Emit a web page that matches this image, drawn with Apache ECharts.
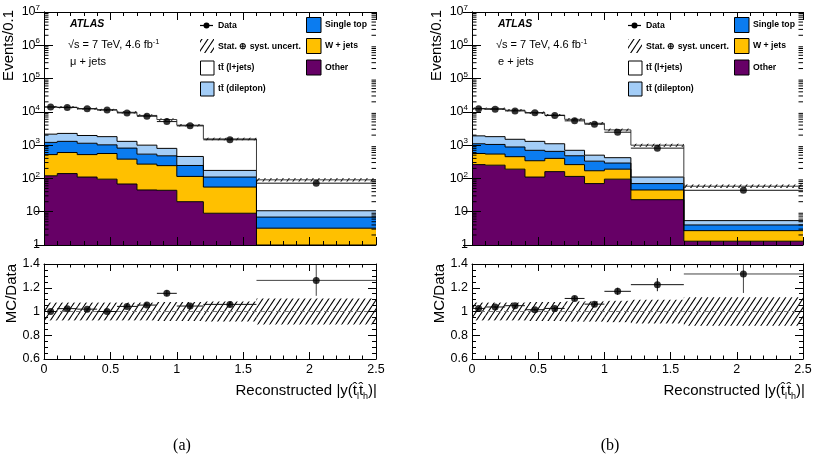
<!DOCTYPE html>
<html><head><meta charset="utf-8">
<script src="https://cdn.jsdelivr.net/npm/echarts@6/dist/echarts.min.js"></script>
<style>html,body{margin:0;padding:0;background:#fff}#c{width:816px;height:466px}</style>
</head><body><div id="c"></div>
<script>
// ---------- data ----------
const binEdges   = [0, 0.1, 0.25, 0.4, 0.55, 0.7, 0.85, 1.0, 1.2, 1.6, 2.5];
const binCenters = [0.05, 0.175, 0.325, 0.475, 0.625, 0.775, 0.925, 1.1, 1.4, 2.05];

// (a) mu + jets
const muData      = [14000, 13500, 12300, 11450, 9300, 7400, 5100, 3800, 1450, 72];
const muOther     = [120, 140, 110, 95, 68, 45, 44, 20, 9, 0.8];
const muWjets     = [400, 460, 410, 465, 312, 224, 198, 95, 46, 2.4];
const muSingleTop = [690, 700, 620, 460, 435, 268, 236, 130, 55, 3.7];
const muDilepton  = [930, 950, 810, 780, 485, 463, 322, 212, 64, 3.8];
const muLjets     = [11860, 11570, 10600, 9650, 8400, 6800, 5080, 3520, 1365, 80];
const muUncert    = [0.075, 0.075, 0.075, 0.075, 0.075, 0.075, 0.08, 0.08, 0.085, 0.11];
const muRatio     = [1.0, 1.024, 1.02, 1.0, 1.043, 1.054, 1.153, 1.046, 1.06, 1.262];
const muRatioErr  = [0.01, 0.01, 0.01, 0.01, 0.012, 0.013, 0.025, 0.02, 0.025, 0.13];

// (b) e + jets
const elData      = [12300, 12000, 10700, 9330, 7760, 5370, 4270, 2450, 813, 44];
const elOther     = [260, 250, 190, 110, 160, 115, 70, 95, 23, 1.3];
const elWjets     = [300, 290, 260, 230, 240, 145, 100, 95, 22, 1.4];
const elSingleTop = [540, 510, 430, 360, 250, 220, 160, 100, 25, 1.3];
const elDilepton  = [800, 750, 620, 600, 450, 220, 170, 130, 40, 1.4];
const elLjets     = [10720, 10660, 9720, 8170, 6860, 5260, 4035, 2450, 887, 53];
const elUncert    = [0.075, 0.075, 0.075, 0.08, 0.08, 0.085, 0.085, 0.09, 0.10, 0.12];
const elRatio     = [1.026, 1.038, 1.049, 1.015, 1.026, 1.11, 1.062, 1.17, 1.226, 1.316];
const elRatioErr  = [0.01, 0.01, 0.01, 0.01, 0.012, 0.02, 0.02, 0.03, 0.055, 0.16];

const legendLabels = ['Data', 'Stat. \u2295 syst. uncert.', 'tt\u0304 (l+jets)', 'tt\u0304 (dilepton)', 'Single top', 'W + jets', 'Other'];

// ---------- style ----------
const FONT = 'Liberation Sans, Arial, Helvetica, sans-serif';
const C_OTHER = '#660066', C_W = '#ffc000', C_ST = '#0b7cf0', C_DIL = '#a3cdf7', C_LJ = '#ffffff';
const X_MIN = 0, X_MAX = 2.5, Y_MIN = 1, Y_MAX = 1e7, R_MIN = 0.6, R_MAX = 1.4;

function makeHatch(w, h, color, lw) {
  const c = document.createElement('canvas'); c.width = w; c.height = h;
  const ctx = c.getContext('2d'); ctx.strokeStyle = color; ctx.lineWidth = lw;
  for (const off of [-w, 0, w]) { ctx.beginPath(); ctx.moveTo(off, h); ctx.lineTo(off + w, 0); ctx.stroke(); }
  return { image: c, repeat: 'repeat' };
}
const hatch = makeHatch(6, 9, '#000', 1.1);

const panels = [
  { layers: [muOther, muWjets, muSingleTop, muDilepton, muLjets], data: muData, ratio: muRatio, ratioErr: muRatioErr, unc: muUncert, channel: '\u03bc + jets', caption: '(a)', dx: 0 },
  { layers: [elOther, elWjets, elSingleTop, elDilepton, elLjets], data: elData, ratio: elRatio, ratioErr: elRatioErr, unc: elUncert, channel: 'e + jets', caption: '(b)', dx: 428 }
];
const layerColors = [C_OTHER, C_W, C_ST, C_DIL, C_LJ];

const grids = [], xAxis = [], yAxis = [], series = [], graphic = [];

function xAx(g, labels, tl) {
  const common = { type: 'value', gridIndex: g, min: X_MIN, max: X_MAX, interval: 0.5, z: 10,
    axisLine: { show: true, onZero: false, lineStyle: { color: '#000', width: 1 } },
    axisTick: { show: true, inside: true, length: tl, lineStyle: { color: '#000' } },
    minorTick: { show: true, splitNumber: 5, length: tl / 2, lineStyle: { color: '#000' } },
    splitLine: { show: false }, minorSplitLine: { show: false } };
  xAxis.push(Object.assign({}, common, { position: 'bottom', axisLabel: { show: labels, color: '#000', fontSize: 12.5, fontFamily: FONT, margin: 4 } }));
  xAxis.push(Object.assign({}, common, { position: 'top', axisLabel: { show: false } }));
}
function yLog(g) {
  const common = { type: 'log', logBase: 10, gridIndex: g, min: Y_MIN, max: Y_MAX, splitNumber: 7, z: 10,
    axisLine: { show: true, lineStyle: { color: '#000', width: 1 } },
    axisTick: { show: true, inside: true, length: 9, lineStyle: { color: '#000' } },
    splitLine: { show: false } };
  yAxis.push(Object.assign({}, common, { position: 'left', axisLabel: { show: true, margin: 4, color: '#000', fontSize: 12.5, fontFamily: FONT,
    formatter: v => { const e = Math.round(Math.log10(v)); if (e === 0) return '1'; if (e === 1) return '10'; return '{b|10}{s|' + e + '}'; },
    rich: { b: { fontSize: 12.5, fontFamily: FONT, color: '#000', lineHeight: 16 }, s: { fontSize: 8, fontFamily: FONT, color: '#000', lineHeight: 8, verticalAlign: 'top' } } } }));
  yAxis.push(Object.assign({}, common, { position: 'right', axisLabel: { show: false } }));
}
function yRatio(g) {
  const common = { type: 'value', gridIndex: g, min: R_MIN, max: R_MAX, interval: 0.2, z: 10,
    axisLine: { show: true, onZero: false, lineStyle: { color: '#000', width: 1 } },
    axisTick: { show: true, inside: true, length: 8, lineStyle: { color: '#000' } },
    minorTick: { show: true, splitNumber: 4, length: 4, lineStyle: { color: '#000' } },
    splitLine: { show: false }, minorSplitLine: { show: false } };
  yAxis.push(Object.assign({}, common, { position: 'left', axisLabel: { show: true, margin: 4, color: '#000', fontSize: 12.5, fontFamily: FONT } }));
  yAxis.push(Object.assign({}, common, { position: 'right', axisLabel: { show: false } }));
}

const rect = (p0, p1, style) => ({ type: 'rect', shape: { x: Math.min(p0[0], p1[0]), y: Math.min(p0[1], p1[1]), width: Math.abs(p1[0] - p0[0]), height: Math.abs(p1[1] - p0[1]) }, style });

panels.forEach((P, p) => {
  const gt = 2 * p, gr = 2 * p + 1;
  const left = 44 + P.dx, width = p === 0 ? 332 : 331;
  grids.push({ left: left, top: 12, width: width, height: 233 });
  grids.push({ left: left, top: 264, width: width, height: 95 });
  xAx(gt, false, 8); yLog(gt);
  xAx(gr, true, 7); yRatio(gr);
  const xi = 2 * gt, yi = 2 * gt, xr = 2 * gr, yr = 2 * gr;

  // cumulative stack tops
  const cum = []; let run = P.layers[0].map(() => 0);
  P.layers.forEach(arr => { run = run.map((v, i) => v + arr[i]); cum.push(run.slice()); });
  const total = cum[cum.length - 1];

  // stacked fills: one polygon per layer (no seams between bins)
  series.push({ type: 'custom', xAxisIndex: xi, yAxisIndex: yi, silent: true, z: 2,
    data: [[1.25, 100]],
    renderItem: (params, api) => {
      const ch = [];
      cum.forEach((top, k) => {
        const bot = k === 0 ? top.map(() => Y_MIN) : cum[k - 1];
        const pts = [];
        top.forEach((v, i) => { const y = Math.max(v, Y_MIN); pts.push(api.coord([binEdges[i], y]), api.coord([binEdges[i + 1], y])); });
        for (let i = bot.length - 1; i >= 0; i--) { const y = Math.max(bot[i], Y_MIN); pts.push(api.coord([binEdges[i + 1], y]), api.coord([binEdges[i], y])); }
        ch.push({ type: 'polygon', shape: { points: pts }, style: { fill: layerColors[k], stroke: null } });
      });
      return { type: 'group', children: ch };
    } });
  // uncertainty band (top)
  series.push({ type: 'custom', xAxisIndex: xi, yAxisIndex: yi, silent: true, z: 3,
    data: binCenters.map((c, i) => [c, total[i]]),
    renderItem: (params, api) => {
      const i = params.dataIndex;
      return rect(api.coord([binEdges[i], total[i] * (1 + P.unc[i])]), api.coord([binEdges[i + 1], total[i] * (1 - P.unc[i])]), { fill: hatch });
    } });
  // step outlines
  series.push({ type: 'custom', xAxisIndex: xi, yAxisIndex: yi, silent: true, z: 4,
    data: [[1.25, 100]],
    renderItem: (params, api) => {
      const ch = [];
      cum.forEach((c, k) => {
        const pts = [];
        c.forEach((v, i) => { const y = Math.max(v, Y_MIN); pts.push(api.coord([binEdges[i], y]), api.coord([binEdges[i + 1], y])); });
        ch.push({ type: 'polyline', shape: { points: pts }, style: { stroke: k === cum.length - 1 ? '#3a3a3a' : '#000', lineWidth: 1, fill: null } });
      });
      return { type: 'group', children: ch };
    } });
  // minor log ticks
  series.push({ type: 'custom', xAxisIndex: xi, yAxisIndex: yi, silent: true, z: 11,
    data: [[1.25, 100]],
    renderItem: (params, api) => {
      const ch = [];
      for (let k = 0; k < 7; k++) for (let m = 2; m <= 9; m++) {
        const v = m * Math.pow(10, k), a = api.coord([X_MIN, v]), b = api.coord([X_MAX, v]);
        ch.push({ type: 'line', shape: { x1: a[0], y1: a[1], x2: a[0] + 4.5, y2: a[1] }, style: { stroke: '#000', lineWidth: 1 } });
        ch.push({ type: 'line', shape: { x1: b[0], y1: b[1], x2: b[0] - 4.5, y2: b[1] }, style: { stroke: '#000', lineWidth: 1 } });
      }
      return { type: 'group', children: ch };
    } });
  // data horizontal bars (top)
  series.push({ type: 'custom', xAxisIndex: xi, yAxisIndex: yi, silent: true, z: 5,
    data: binCenters.map((c, i) => [c, P.data[i]]),
    renderItem: (params, api) => {
      const i = params.dataIndex, a = api.coord([binEdges[i], P.data[i]]), b = api.coord([binEdges[i + 1], P.data[i]]);
      return { type: 'line', shape: { x1: a[0], y1: a[1], x2: b[0], y2: b[1] }, style: { stroke: '#111', lineWidth: 1 } };
    } });
  series.push({ type: 'scatter', xAxisIndex: xi, yAxisIndex: yi, silent: true, z: 6, symbol: 'circle', symbolSize: 7,
    itemStyle: { color: '#000' }, data: binCenters.map((c, i) => [c, P.data[i]]) });

  // ratio band
  series.push({ type: 'custom', xAxisIndex: xr, yAxisIndex: yr, silent: true, z: 2,
    data: binCenters.map((c, i) => [c, 1]),
    renderItem: (params, api) => {
      const i = params.dataIndex;
      return rect(api.coord([binEdges[i], 1 + P.unc[i]]), api.coord([binEdges[i + 1], 1 - P.unc[i]]), { fill: hatch });
    } });
  series.push({ type: 'line', xAxisIndex: xr, yAxisIndex: yr, silent: true, z: 3, symbol: 'none',
    lineStyle: { color: '#777', width: 1, type: [5, 3] }, data: [[X_MIN, 1], [X_MAX, 1]] });
  series.push({ type: 'custom', xAxisIndex: xr, yAxisIndex: yr, silent: true, z: 4,
    data: binCenters.map((c, i) => [c, P.ratio[i]]),
    renderItem: (params, api) => {
      const i = params.dataIndex, r = P.ratio[i], e = P.ratioErr[i];
      const a = api.coord([binEdges[i], r]), b = api.coord([binEdges[i + 1], r]);
      const u = api.coord([binCenters[i], Math.min(r + e, R_MAX)]), d = api.coord([binCenters[i], Math.max(r - e, R_MIN)]);
      const col = i === binCenters.length - 1 ? '#444' : '#111';
      return { type: 'group', children: [
        { type: 'line', shape: { x1: a[0], y1: a[1], x2: b[0], y2: b[1] }, style: { stroke: col, lineWidth: 1 } },
        { type: 'line', shape: { x1: u[0], y1: u[1], x2: d[0], y2: d[1] }, style: { stroke: col, lineWidth: 1 } } ] };
    } });
  series.push({ type: 'scatter', xAxisIndex: xr, yAxisIndex: yr, silent: true, z: 6, symbol: 'circle', symbolSize: 7,
    itemStyle: { color: '#000' }, data: binCenters.map((c, i) => [c, P.ratio[i]]) });

  // ---------- texts & legend ----------
  const dx = P.dx;
  const T = (x, y, text, font, align, extra) => Object.assign({ type: 'text', x: x, y: y, z: 20, silent: true,
    style: { text: text, font: font, fill: '#000', textAlign: align || 'left', textVerticalAlign: 'middle', align: align || 'left', verticalAlign: 'middle' } }, extra || {});
  graphic.push(T(9 + dx, 10, 'Events/0.1', '15px ' + FONT, 'right', { rotation: Math.PI / 2 }));
  graphic.push(T(12 + dx, 264, 'MC/Data', '15px ' + FONT, 'right', { rotation: Math.PI / 2 }));
  graphic.push({ type: 'text', x: 377 + dx, y: 391, z: 20, silent: true, style: {
    text: '{n|Reconstructed |y(t\u0302}{s|l}{n|t\u0302}{s|h}{n|)|}',
    rich: { n: { font: '15px ' + FONT, fill: '#000', lineHeight: 20 }, s: { font: '9px ' + FONT, fill: '#000', lineHeight: 9, verticalAlign: 'bottom' } },
    textAlign: 'right', textVerticalAlign: 'middle', align: 'right', verticalAlign: 'middle' } });
  graphic.push(T(182 + dx, 446, P.caption, '16px Liberation Serif, DejaVu Serif, serif', 'center'));
  graphic.push(T(70 + dx, 24.5, 'ATLAS', 'italic bold 10.5px ' + FONT, 'left'));
  graphic.push({ type: 'text', x: 68 + dx, y: 45, z: 20, silent: true, style: {
    text: '{n|\u221as = 7 TeV, 4.6 fb}{s|-1}',
    rich: { n: { font: '11px ' + FONT, fill: '#000', lineHeight: 14 }, s: { font: '7.5px ' + FONT, fill: '#000', lineHeight: 8, verticalAlign: 'top' } },
    textAlign: 'left', textVerticalAlign: 'middle', align: 'left', verticalAlign: 'middle' } });
  graphic.push(T(70 + dx, 62, P.channel, '11px ' + FONT, 'left'));

  const LF = 'bold 8.7px ' + FONT;
  // column 1
  graphic.push({ type: 'line', z: 20, silent: true, shape: { x1: 200 + dx, y1: 25.5, x2: 213 + dx, y2: 25.5 }, style: { stroke: '#000', lineWidth: 1.2 } });
  graphic.push({ type: 'circle', z: 21, silent: true, shape: { cx: 206.5 + dx, cy: 25.5, r: 3 }, style: { fill: '#000' } });
  graphic.push(T(218 + dx, 25.5, legendLabels[0], LF));
  graphic.push({ type: 'rect', z: 20, silent: true, shape: { x: 200 + dx, y: 39, width: 14, height: 14 }, style: { fill: hatch } });
  graphic.push(T(218 + dx, 46.5, legendLabels[1], LF));
  graphic.push({ type: 'rect', z: 20, silent: true, shape: { x: 200.5 + dx, y: 61, width: 13.5, height: 14 }, style: { fill: C_LJ, stroke: '#000', lineWidth: 1 } });
  graphic.push(T(218 + dx, 68, legendLabels[2], LF));
  graphic.push({ type: 'rect', z: 20, silent: true, shape: { x: 200.5 + dx, y: 82, width: 13.5, height: 14 }, style: { fill: C_DIL, stroke: '#000', lineWidth: 1 } });
  graphic.push(T(218 + dx, 89, legendLabels[3], LF));
  // column 2
  [[C_ST, 25], [C_W, 46], [C_OTHER, 67.5]].forEach((it, k) => {
    graphic.push({ type: 'rect', z: 20, silent: true, shape: { x: 306.5 + dx, y: it[1] - 7.5, width: 14.5, height: 15 }, style: { fill: it[0], stroke: '#000', lineWidth: 1 } });
    graphic.push(T(325 + dx, it[1], legendLabels[4 + k], LF));
  });
});

const chart = echarts.init(document.getElementById('c'), null, { renderer: 'canvas' });
chart.setOption({ animation: false, backgroundColor: '#fff', grid: grids, xAxis: xAxis, yAxis: yAxis, series: series, graphic: graphic });
</script></body></html>
